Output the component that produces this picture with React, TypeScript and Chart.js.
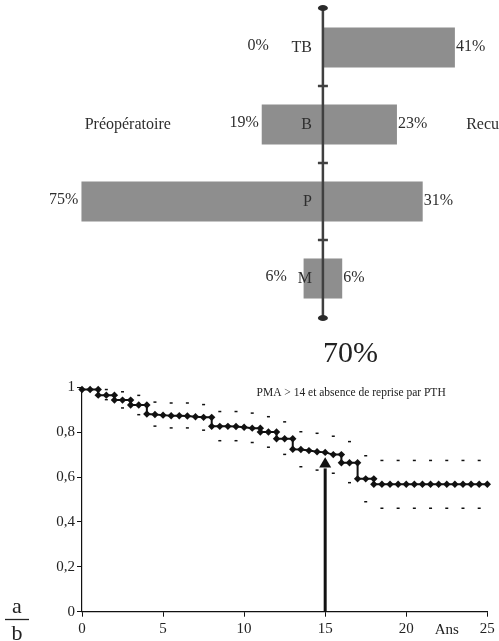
import React, { useEffect, useRef } from 'react';
import { Chart, registerables } from 'chart.js';

Chart.register(...registerables);

const SERIF = '"Liberation Serif", "Times New Roman", serif';

// ---------- Top chart: distribution (butterfly) ----------
const categories = ['TB', 'B', 'P', 'M'];
const preopValues = [0, 19, 75, 6];
const followupValues = [41, 23, 31, 6];
const preopLabel = 'Préopératoire';
const followupLabel = 'Recul';

// ---------- Bottom chart: survival curve ----------
const kmTimes = [
  0, 0.5, 1, 1, 1.5, 2, 2, 2.5, 3, 3, 3.5, 4, 4, 4.5, 5, 5.5, 6, 6.5, 7, 7.5, 8, 8,
  8.5, 9, 9.5, 10, 10.5, 11, 11, 11.5, 12, 12, 12.5, 13, 13, 13.5, 14, 14.5, 15,
  15.5, 16, 16, 16.5, 17, 17, 17.5, 18, 18, 18.5, 19, 19.5, 20, 20.5, 21, 21.5, 22,
  22.5, 23, 23.5, 24, 24.5, 25,
];
const kmSurvival = [
  0.99, 0.99, 0.99, 0.965, 0.965, 0.965, 0.943, 0.943, 0.943, 0.921, 0.921, 0.921,
  0.881, 0.879, 0.876, 0.873, 0.873, 0.872, 0.869, 0.866, 0.866, 0.826, 0.826, 0.826,
  0.825, 0.822, 0.818, 0.818, 0.801, 0.801, 0.801, 0.771, 0.771, 0.771, 0.724, 0.723,
  0.718, 0.713, 0.71, 0.70, 0.70, 0.664, 0.664, 0.664, 0.592, 0.592, 0.592, 0.568,
  0.568, 0.568, 0.568, 0.568, 0.568, 0.568, 0.568, 0.568, 0.568, 0.568, 0.568, 0.568,
  0.568, 0.568,
];
const ciTimes = [
  1.5, 2.5, 3.5, 4.5, 5.5, 6.5, 7.5, 8.5, 9.5, 10.5, 11.5, 12.5, 13.5, 14.5, 15.5,
  16.5, 17.5, 18.5, 19.5, 20.5, 21.5, 22.5, 23.5, 24.5,
];
const ciUpper = [
  0.99, 0.98, 0.964, 0.934, 0.93, 0.93, 0.923, 0.892, 0.892, 0.885, 0.869, 0.846,
  0.802, 0.795, 0.782, 0.758, 0.695, 0.674, 0.674, 0.674, 0.674, 0.674, 0.674, 0.674,
];
const ciLower = [
  0.945, 0.908, 0.878, 0.827, 0.819, 0.819, 0.809, 0.762, 0.762, 0.754, 0.733, 0.701,
  0.646, 0.631, 0.617, 0.575, 0.49, 0.461, 0.461, 0.461, 0.461, 0.461, 0.461, 0.461,
];
const yTickLabels = ['0', '0,2', '0,4', '0,6', '0,8', '1'];
const chartTitle = 'PMA > 14 et absence de reprise par PTH';
const xAxisTitle = 'Ans';
const highlightYear = 15;
const highlightValue = 0.688;
const highlightText = '70%';

const butterflyPlugin = {
  id: 'butterflyDecor',
  afterDatasetsDraw(chart: any) {
    const { ctx, chartArea, scales } = chart;
    const x = scales.x;
    const y = scales.y;
    const ax = x.getPixelForValue(0);
    ctx.save();
    ctx.strokeStyle = '#404040';
    ctx.lineWidth = 2.5;
    ctx.beginPath();
    ctx.moveTo(ax, chartArea.top - 2);
    ctx.lineTo(ax, chartArea.bottom + 1);
    ctx.stroke();
    for (let i = 0; i < categories.length - 1; i++) {
      const yb = (y.getPixelForValue(i) + y.getPixelForValue(i + 1)) / 2;
      ctx.beginPath();
      ctx.moveTo(ax - 5, yb);
      ctx.lineTo(ax + 5, yb);
      ctx.stroke();
    }
    ctx.fillStyle = '#2a2a2a';
    [chartArea.top - 1, chartArea.bottom + 1].forEach((yy: number) => {
      ctx.beginPath();
      ctx.ellipse(ax, yy, 5, 3, 0, 0, Math.PI * 2);
      ctx.fill();
    });

    ctx.font = `16px ${SERIF}`;
    ctx.fillStyle = '#2e2e2e';
    ctx.textBaseline = 'middle';
    categories.forEach((c, i) => {
      const yc = y.getPixelForValue(i);
      ctx.textAlign = 'right';
      ctx.fillText(c, ax - 11, yc);
      const leftEdge = x.getPixelForValue(-preopValues[i]);
      const lx = preopValues[i] === 0 ? ax - 54 : Math.min(leftEdge - 3, ax - 36);
      ctx.fillText(preopValues[i] + '%', lx, yc - 2);
      ctx.textAlign = 'left';
      ctx.fillText(followupValues[i] + '%', x.getPixelForValue(followupValues[i]) + 1, yc - 1);
    });
    ctx.font = `16px ${SERIF}`;
    ctx.textAlign = 'left';
    const yB = y.getPixelForValue(1);
    ctx.fillText(preopLabel, x.getPixelForValue(-74), yB);
    ctx.fillText(followupLabel, x.getPixelForValue(44.5), yB);
    ctx.restore();
  },
};

const survivalPlugin = {
  id: 'survivalDecor',
  afterDatasetsDraw(chart: any) {
    const { ctx, scales } = chart;
    const x = scales.x;
    const y = scales.y;
    const ax = x.getPixelForValue(highlightYear);
    const y0 = y.getPixelForValue(0);
    const tip = y.getPixelForValue(highlightValue);
    const base = y.getPixelForValue(highlightValue - 0.045);
    ctx.save();
    ctx.strokeStyle = '#111';
    ctx.lineWidth = 3;
    ctx.beginPath();
    ctx.moveTo(ax, y0);
    ctx.lineTo(ax, base + 1);
    ctx.stroke();
    ctx.fillStyle = '#111';
    ctx.beginPath();
    ctx.moveTo(ax, tip);
    ctx.lineTo(ax - 6, base);
    ctx.lineTo(ax + 6, base);
    ctx.closePath();
    ctx.fill();
    ctx.restore();
  },
  afterDraw(chart: any) {
    const { ctx, scales } = chart;
    const x = scales.x;
    const y = scales.y;
    ctx.save();
    ctx.fillStyle = '#222';
    ctx.textBaseline = 'alphabetic';
    ctx.textAlign = 'left';
    ctx.font = `30px ${SERIF}`;
    ctx.fillText(highlightText, 323, 32);
    ctx.font = `11.5px ${SERIF}`;
    ctx.textAlign = 'center';
    ctx.fillText(chartTitle, x.getPixelForValue(16.6), y.getPixelForValue(0.96));
    ctx.font = `15px ${SERIF}`;
    ctx.textBaseline = 'middle';
    ctx.fillText(xAxisTitle, x.getPixelForValue(22.5), y.getPixelForValue(0) + 18);
    ctx.font = `22px ${SERIF}`;
    ctx.textBaseline = 'alphabetic';
    ctx.fillText('a', 17, 283);
    ctx.fillText('b', 17, 310);
    ctx.strokeStyle = '#222';
    ctx.lineWidth = 1.3;
    ctx.beginPath();
    ctx.moveTo(5, 289.5);
    ctx.lineTo(29, 289.5);
    ctx.stroke();
    ctx.restore();
  },
};

export default function App() {
  const topRef = useRef<HTMLCanvasElement>(null);
  const bottomRef = useRef<HTMLCanvasElement>(null);

  useEffect(() => {
    document.body.style.margin = '0';
    const top = new Chart(topRef.current as HTMLCanvasElement, {
      type: 'bar',
      data: {
        labels: categories,
        datasets: [
          {
            label: preopLabel,
            data: preopValues.map((v) => -v),
            backgroundColor: '#8e8e8e',
            borderWidth: 0,
            barPercentage: 0.52,
            categoryPercentage: 1,
          },
          {
            label: followupLabel,
            data: followupValues,
            backgroundColor: '#8e8e8e',
            borderWidth: 0,
            barPercentage: 0.52,
            categoryPercentage: 1,
          },
        ],
      },
      options: {
        indexAxis: 'y',
        responsive: false,
        animation: false,
        layout: { padding: { top: 9, bottom: 13, left: 0, right: 0 } },
        plugins: { legend: { display: false }, tooltip: { enabled: false } },
        scales: {
          x: { type: 'linear', min: -100.3, max: 54.7, stacked: true, display: false },
          y: { type: 'category', stacked: true, display: false, offset: true },
        },
      },
      plugins: [butterflyPlugin],
    } as any);

    const tickFont = { family: SERIF, size: 15 };
    const bottom = new Chart(bottomRef.current as HTMLCanvasElement, {
      type: 'scatter',
      data: {
        datasets: [
          {
            label: 'survie',
            data: kmTimes.map((t, i) => ({ x: t, y: kmSurvival[i] })),
            showLine: true,
            borderColor: '#111',
            borderWidth: 2,
            pointStyle: 'rectRot',
            pointRadius: 3.7,
            pointBackgroundColor: '#111',
            pointBorderColor: '#111',
            pointBorderWidth: 0,
            tension: 0,
            clip: false,
          },
          {
            label: 'IC sup',
            data: ciTimes.map((t, i) => ({ x: t, y: ciUpper[i] })),
            showLine: false,
            pointStyle: 'line',
            pointRadius: 1.5,
            pointBorderColor: '#111',
            pointBorderWidth: 1.5,
            clip: false,
          },
          {
            label: 'IC inf',
            data: ciTimes.map((t, i) => ({ x: t, y: ciLower[i] })),
            showLine: false,
            pointStyle: 'line',
            pointRadius: 1.5,
            pointBorderColor: '#111',
            pointBorderWidth: 1.5,
            clip: false,
          },
        ],
      },
      options: {
        responsive: false,
        animation: false,
        layout: { padding: { top: 57.3, right: 11.7, left: 0, bottom: 0 } },
        plugins: { legend: { display: false }, tooltip: { enabled: false } },
        scales: {
          x: {
            type: 'linear',
            min: 0,
            max: 25,
            ticks: { stepSize: 5, font: tickFont, color: '#222', padding: 3, maxRotation: 0 },
            grid: { drawOnChartArea: false, tickLength: 5, color: '#111' },
            border: { color: '#111', width: 1.2 },
            afterFit: (s: any) => {
              s.height = 29.3;
            },
          },
          y: {
            type: 'linear',
            min: 0,
            max: 1,
            ticks: {
              stepSize: 0.2,
              font: tickFont,
              color: '#222',
              padding: 2,
              callback: (_v: any, i: number) => yTickLabels[i],
            },
            grid: { drawOnChartArea: false, tickLength: 5, color: '#111' },
            border: { color: '#111', width: 1.2 },
            afterFit: (s: any) => {
              s.width = 82;
            },
          },
        },
      },
      plugins: [survivalPlugin],
    } as any);

    return () => {
      top.destroy();
      bottom.destroy();
    };
  }, []);

  return (
    <div style={{ position: 'absolute', left: 0, top: 0, width: 499, height: 641, background: '#fff' }}>
      <canvas
        ref={topRef}
        width={499}
        height={330}
        style={{ position: 'absolute', left: 0, top: 0, width: 499, height: 330, filter: 'blur(0.6px)' }}
      />
      <canvas
        ref={bottomRef}
        width={499}
        height={311}
        style={{ position: 'absolute', left: 0, top: 330, width: 499, height: 311 }}
      />
    </div>
  );
}
